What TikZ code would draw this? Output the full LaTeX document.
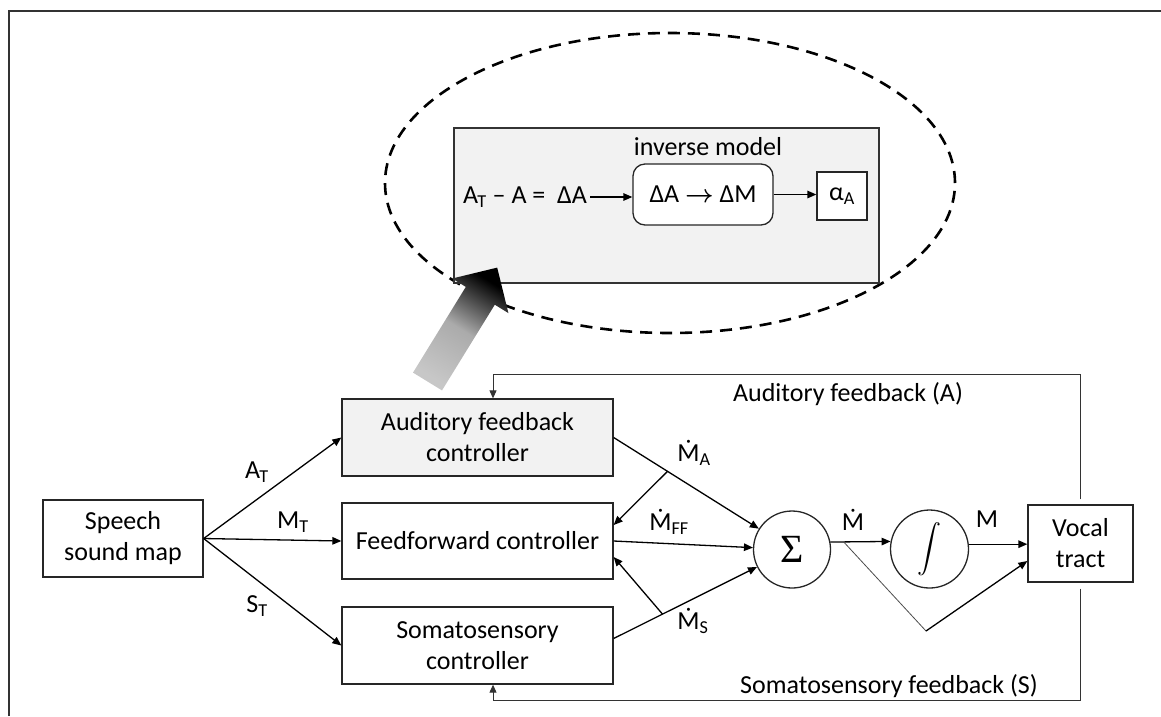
\documentclass[tikz,border=0pt]{standalone}
\usepackage{fontspec}
\usepackage{graphicx}
\setmainfont{Carlito}
\newfontfamily\serifsym{Liberation Serif}
\usetikzlibrary{arrows.meta,calc,shapes.geometric,shadings}
\newcommand\mysub[1]{\textsubscript{#1}}
\begin{document}
\begin{tikzpicture}[x=1pt,y=-1pt,
 txt/.style={font=\fontsize{26}{31}\selectfont, inner sep=0pt},
 box/.style={draw=black!85, line width=1.3pt, align=center, inner sep=0pt, font=\fontsize{26}{31}\selectfont},
 arr/.style={line width=1.3pt, -{Triangle[length=9pt,width=7.5pt]}},
 fb/.style={line width=1pt, draw=black!80},
]
\useasboundingbox (0,0) rectangle (1161,716);
\draw[line width=1.5pt, black!80] (9,716) -- (9,11) -- (1161,11);

% top part
\draw[line width=2.6pt, dash pattern=on 12pt off 8pt] (670,183) ellipse [x radius=285pt, y radius=150pt];
\node[draw=black!80, line width=1.3pt, fill=black!5, minimum width=425pt, minimum height=155pt, inner sep=0pt] (inner) at (666.5,205.5) {};
\node[txt] (inv) at (708,147) {inverse model};
\node[box, rounded corners=12pt, fill=white, minimum width=140pt, minimum height=61pt] (im) at (703,194.5) {ΔA {\boldmath$\rightarrow$} ΔM};
\node[box, fill=white, minimum width=50pt, minimum height=48pt] (alpha) at (842,196) {α\mysub{A}};
\node[txt] (eq) at (525,197) {A\kern-0.03em\mysub{T} – A =\hspace{0.45em}ΔA};
\draw[arr] ([xshift=3pt]eq.east) -- (eq.east -| im.west);
\draw[arr] (im.east) -- (im.east -| alpha.west);

\shade[top color=black, bottom color=black!22, middle color=black!33, shading angle=-31.6]
 (413,372.6) -- (465.8,286.9) -- (452.2,278.5) -- (497.2,267.6) -- (508.4,313.1) -- (494.8,304.7) -- (442,390.4) -- cycle;

% main blocks
\node[box, minimum width=160pt, minimum height=77pt] (speech) at (123,538.5) {Speech\\sound map};
\node[box, fill=black!5, minimum width=271pt, minimum height=77pt] (afc) at (477.5,437.5) {Auditory feedback\\controller};
\node[box, minimum width=271pt, minimum height=76pt] (ffc) at (477.5,541) {Feedforward controller};
\node[box, minimum width=271pt, minimum height=77pt] (soc) at (477.5,645.5) {Somatosensory\\controller};
\node[box, circle, minimum size=77pt] (sigma) at (792,549.5) {\serifsym\fontsize{40}{40}\selectfont Σ};
\node[box, circle, minimum size=78pt] (integ) at (929.5,549) {\scalebox{2.4}{$\displaystyle\int$}};
\node[box, minimum width=105pt, minimum height=77pt] (vocal) at (1080.5,543.5) {Vocal\\tract};

\draw[arr] (speech.east) -- (afc.west);
\draw[arr] (speech.east) -- (ffc.west);
\draw[arr] (speech.east) -- (soc.west);

\draw[arr] (afc.east) -- (sigma);
\coordinate (ba) at ($(afc.east)!0.302!(sigma.center)$);
\draw[arr] (ba) -- ($(ffc.east)+(0,-16)$);
\draw[arr] (ffc.east) -- (sigma);
\coordinate (ss) at ($(soc.east)+(0,-7)$);
\draw[arr] (ss) -- (sigma);
\coordinate (bs) at ($(ss)!0.274!(sigma.center)$);
\draw[arr] (bs) -- ($(ffc.east)+(0,16)$);

\node[txt] (lat) at (257,472) {A\kern-0.03em\mysub{T}};
\node[txt] (lmt) at (293,522) {M\mysub{T}};
\node[txt] (lst) at (257,606) {S\mysub{T}};
\node[txt] (lma) at (694,453) {Ṁ\mysub{A}};
\node[txt] (lmff) at (669,522) {Ṁ\mysub{FF}};
\node[txt] (lms) at (693,621) {Ṁ\mysub{S}};
\node[txt] (lmd) at (853,520) {Ṁ};
\node[txt] (lm) at (987,519) {M};

\draw[arr] (sigma.11) -- (integ.169);
\draw[arr] (integ.7) -- (integ.7 -| vocal.west);
\coordinate (bm) at ($(sigma.11)!0.22!(integ.169)$);
\coordinate (vv) at (926,631);
\draw[line width=0.8pt, black!70] (bm) -- (vv);
\draw[arr] (vv) -- ($(vocal.west)+(0,17.5)$);

\coordinate (fa) at (493,374);
\coordinate (fs) at (493,700);
\draw[fb, -{Triangle[length=8pt,width=7pt]}] ($(vocal.north)+(0,-5)$) |- (fa) -- (fa |- afc.north);
\draw[fb, -{Triangle[length=8pt,width=7pt]}] ($(vocal.south)+(0,6)$) |- (fs) -- (fs |- soc.south);
\node[txt] (lfa) at (848,394) {Auditory feedback (A)};
\node[txt] (lfs) at (889,686) {Somatosensory feedback (S)};
\end{tikzpicture}
\end{document}
